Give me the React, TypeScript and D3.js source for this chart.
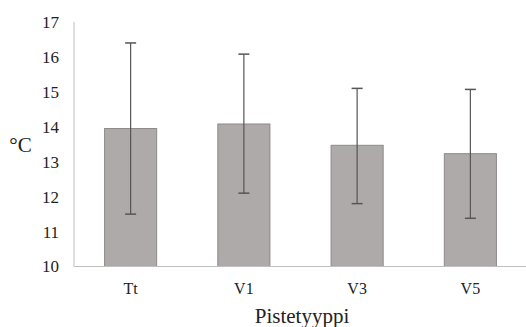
import { useEffect, useRef } from "react";
import * as d3 from "d3";

const categories = ["Tt", "V1", "V3", "V5"];
const means = [13.95, 14.08, 13.47, 13.23];
const errLow = [11.5, 12.1, 11.8, 11.38];
const errHigh = [16.4, 16.08, 15.1, 15.07];
const yTicks = [10, 11, 12, 13, 14, 15, 16, 17];

export default function App() {
  const ref = useRef<SVGSVGElement>(null);

  useEffect(() => {
    const width = 526;
    const height = 327;
    const margin = { top: 22, right: -1, bottom: 60, left: 74 };

    const svg = d3.select(ref.current);
    svg.selectAll("*").remove();

    const data = categories.map((c, i) => ({
      cat: c,
      mean: means[i],
      lo: errLow[i],
      hi: errHigh[i],
    }));

    const x = d3
      .scaleBand()
      .domain(categories)
      .range([margin.left, width - margin.right])
      .paddingInner(0.54)
      .paddingOuter(0.27);

    const y = d3
      .scaleLinear()
      .domain([10, 17])
      .range([height - margin.bottom - 0.5, margin.top]);

    const font = "'Liberation Serif', 'Times New Roman', serif";

    // axis lines
    svg
      .append("line")
      .attr("x1", margin.left)
      .attr("x2", margin.left)
      .attr("y1", y(17))
      .attr("y2", y(10))
      .attr("stroke", "#bfbfbf")
      .attr("stroke-width", 1);

    svg
      .selectAll(".ytick")
      .data(yTicks)
      .enter()
      .append("text")
      .attr("x", 59)
      .attr("y", (d) => y(d))
      .attr("dy", "0.35em")
      .attr("text-anchor", "end")
      .attr("font-family", font)
      .attr("font-size", 17)
      .attr("fill", "#222")
      .text((d) => d);

    // bars
    svg
      .selectAll(".bar")
      .data(data)
      .enter()
      .append("rect")
      .attr("x", (d) => x(d.cat)!)
      .attr("y", (d) => y(d.mean))
      .attr("width", x.bandwidth())
      .attr("height", (d) => y(10) - y(d.mean))
      .attr("fill", "#aeaaaa")
      .attr("stroke", "#8e8a8a")
      .attr("stroke-width", 1);

    svg
      .append("line")
      .attr("x1", margin.left)
      .attr("x2", width)
      .attr("y1", y(10))
      .attr("y2", y(10))
      .attr("stroke", "#bfbfbf")
      .attr("stroke-width", 1.2);

    // error bars
    const eb = svg.selectAll(".err").data(data).enter().append("g");
    const cx = (d: { cat: string }) => x(d.cat)! + x.bandwidth() / 2;
    eb.append("line")
      .attr("x1", cx)
      .attr("x2", cx)
      .attr("y1", (d) => y(d.hi))
      .attr("y2", (d) => y(d.lo))
      .attr("stroke", "#555")
      .attr("stroke-width", 1.2);
    eb.append("line")
      .attr("x1", (d) => cx(d) - 5.5)
      .attr("x2", (d) => cx(d) + 5.5)
      .attr("y1", (d) => y(d.hi))
      .attr("y2", (d) => y(d.hi))
      .attr("stroke", "#555")
      .attr("stroke-width", 1.5);
    eb.append("line")
      .attr("x1", (d) => cx(d) - 5.5)
      .attr("x2", (d) => cx(d) + 5.5)
      .attr("y1", (d) => y(d.lo))
      .attr("y2", (d) => y(d.lo))
      .attr("stroke", "#555")
      .attr("stroke-width", 1.5);

    // category labels
    svg
      .selectAll(".xlab")
      .data(categories)
      .enter()
      .append("text")
      .attr("x", (d) => x(d)! + x.bandwidth() / 2)
      .attr("y", 294)
      .attr("text-anchor", "middle")
      .attr("font-family", font)
      .attr("font-size", 16)
      .attr("fill", "#222")
      .text((d) => d);

    svg
      .append("text")
      .attr("x", 302)
      .attr("y", 323)
      .attr("text-anchor", "middle")
      .attr("font-family", font)
      .attr("font-size", 21)
      .attr("fill", "#222")
      .text("Pistetyyppi");

    svg
      .append("text")
      .attr("x", 20.5)
      .attr("y", 145)
      .attr("dy", "0.35em")
      .attr("text-anchor", "middle")
      .attr("font-family", font)
      .attr("font-size", 21)
      .attr("fill", "#222")
      .text("°C");
  }, []);

  return (
    <svg
      ref={ref}
      width={526}
      height={327}
      style={{ position: "absolute", left: 0, top: 0, background: "#fff" }}
    />
  );
}
